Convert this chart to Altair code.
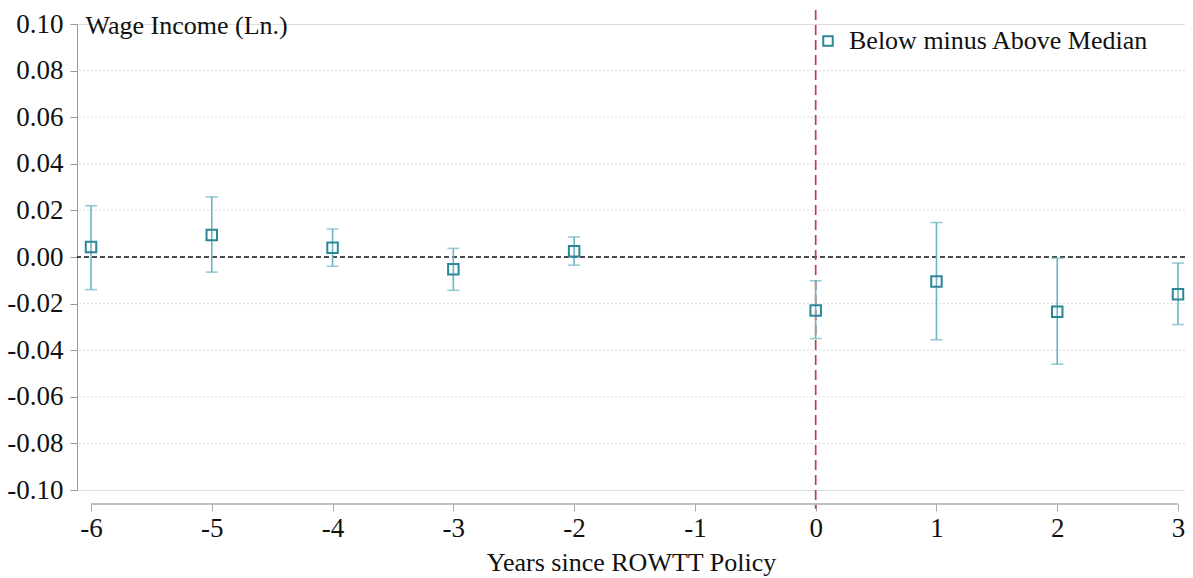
import altair as alt
import pandas as pd

years = [-6, -5, -4, -3, -2, 0, 1, 2, 3]
estimate = [0.0043, 0.0094, 0.0040, -0.0053, 0.0025, -0.0230, -0.0105, -0.0235, -0.0160]
ci_low = [-0.0140, -0.0065, -0.0040, -0.0143, -0.0035, -0.0350, -0.0355, -0.0460, -0.0290]
ci_high = [0.0220, 0.0258, 0.0120, 0.0037, 0.0086, -0.0102, 0.0148, -0.0005, -0.0026]
series_name = "Below minus Above Median"

y_ticks = [-0.10, -0.08, -0.06, -0.04, -0.02, 0.00, 0.02, 0.04, 0.06, 0.08, 0.10]
grid_vals = [-0.08, -0.06, -0.04, -0.02, 0.02, 0.04, 0.06, 0.08]
x_ticks = [-6, -5, -4, -3, -2, -1, 0, 1, 2, 3]
x_domain = [-6.116, 3.058]
y_domain = [-0.10, 0.10]
policy_year = [0]
policy_span = [0.106, -0.108]

df = pd.DataFrame({"year": years, "est": estimate, "lo": ci_low, "hi": ci_high,
                   "series": [series_name] * len(years)})
grid_df = pd.DataFrame({"g": grid_vals})
zero_df = pd.DataFrame({"z": [0.0]})
vline_df = pd.DataFrame({"x": policy_year, "y": [policy_span[0]], "y2": [policy_span[1]]})
axis_df = pd.DataFrame({"x": [x_ticks[0]], "x2": [x_ticks[-1]]})

FONT = "Liberation Serif"
TEAL = "#2a8797"
LIGHT = "#6db5c2"

W, H = 1108, 466

xs = alt.Scale(domain=x_domain, nice=False, zero=False)
ys = alt.Scale(domain=y_domain, nice=False, zero=False)

neg_fmt_y = "datum.value < -0.0001 ? '-' + format(-datum.value, '.2f') : format(abs(datum.value), '.2f')"
neg_fmt_x = "datum.value < 0 ? '-' + format(-datum.value, 'd') : format(datum.value, 'd')"

grid = alt.Chart(grid_df).mark_rule(color="#dadada", strokeDash=[2, 2], strokeWidth=1).encode(
    y=alt.Y("g:Q", scale=ys,
            axis=alt.Axis(values=y_ticks, labelExpr=neg_fmt_y, title="Wage Income (Ln.)",
                          titleAngle=0, titleAlign="left", titleBaseline="alphabetic",
                          titleX=8, titleY=9, titleFont=FONT, titleFontSize=26,
                          titleFontWeight="normal", titleColor="#111",
                          labelFont=FONT, labelFontSize=27, labelColor="#111",
                          labelPadding=7, tickSize=7, tickColor="#999", domainColor="#999",
                          grid=False))
)

zero = alt.Chart(zero_df).mark_rule(color="#111", strokeDash=[5, 3], strokeWidth=1.3).encode(
    y=alt.Y("z:Q", scale=ys)
)

vline = alt.Chart(vline_df).mark_rule(color="#c23b52", strokeDash=[10, 5], strokeWidth=1.7, clip=False).encode(
    x=alt.X("x:Q", scale=xs),
    y=alt.Y("y:Q", scale=ys),
    y2="y2:Q",
)

xaxis_line = alt.Chart(axis_df).mark_rule(color="#aaa", strokeWidth=1.5, clip=False).encode(
    x=alt.X("x:Q", scale=xs),
    x2="x2:Q",
    y=alt.value(H + 14),
)

bars = alt.Chart(df).mark_rule(color=LIGHT, strokeWidth=1.6).encode(
    x=alt.X("year:Q", scale=xs,
            axis=alt.Axis(values=x_ticks, labelExpr=neg_fmt_x, title="Years since ROWTT Policy",
                          titleFont=FONT, titleFontSize=26, titleFontWeight="normal",
                          titleColor="#111", titlePadding=8,
                          labelFont=FONT, labelFontSize=27, labelColor="#111",
                          labelPadding=4, tickSize=7, tickColor="#aaa", offset=14,
                          domain=False, grid=False, labelFlush=False)),
    y=alt.Y("lo:Q", scale=ys),
    y2="hi:Q",
)

cap_lo = alt.Chart(df).mark_tick(color=LIGHT, orient="horizontal", size=12, thickness=1.6).encode(
    x=alt.X("year:Q", scale=xs), y=alt.Y("lo:Q", scale=ys))
cap_hi = alt.Chart(df).mark_tick(color=LIGHT, orient="horizontal", size=12, thickness=1.6).encode(
    x=alt.X("year:Q", scale=xs), y=alt.Y("hi:Q", scale=ys))

points = alt.Chart(df).mark_point(shape="square", filled=False, size=110, strokeWidth=2, opacity=1).encode(
    x=alt.X("year:Q", scale=xs),
    y=alt.Y("est:Q", scale=ys),
    color=alt.Color("series:N", scale=alt.Scale(domain=[series_name], range=[TEAL]),
                    legend=alt.Legend(title=None, orient="none", legendX=738, legendY=4,
                                      labelFont=FONT, labelFontSize=26, labelColor="#111",
                                      labelLimit=0,
                                      symbolType="square", symbolSize=90, symbolStrokeWidth=2,
                                      symbolFillColor="white", labelOffset=8)),
)

chart = alt.layer(grid, zero, vline, xaxis_line, bars, cap_lo, cap_hi, points).properties(
    width=W, height=H,
    autosize=alt.AutoSizeParams(type="none"),
    padding={"left": 69, "top": 16, "right": 0, "bottom": 86},
).configure_view(stroke=None).configure(background="white")

chart.save("out.html", embed_options={"renderer": "svg", "actions": False})
